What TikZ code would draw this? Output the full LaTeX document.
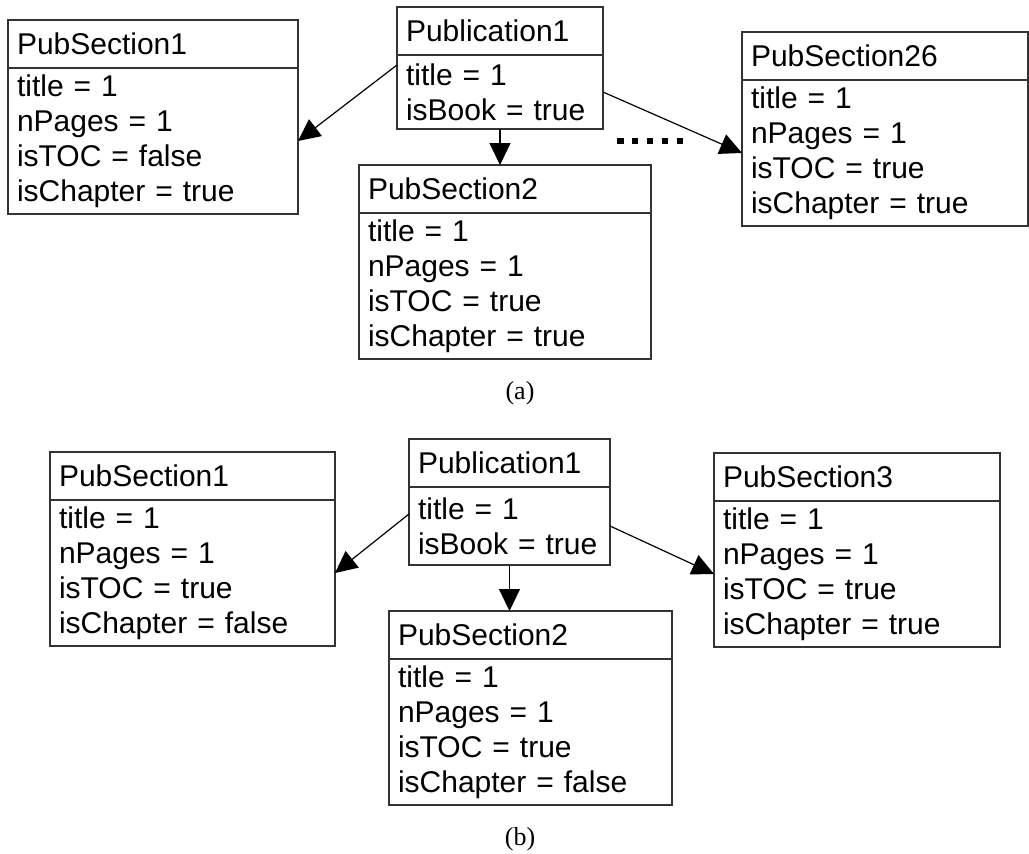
\documentclass[tikz,border=0pt]{standalone}
\usepackage{fontspec}
\setmainfont{Liberation Sans}
\newfontfamily\capfont{Liberation Serif}
\usepackage{tikz}
\usetikzlibrary{arrows.meta, positioning}

\begin{document}
\begin{tikzpicture}[
    x=1pt, y=-1pt,
    objhead/.style={rectangle, draw=black!80, line width=1.5pt, anchor=north west, text width=#1, align=left, inner xsep=9pt, inner ysep=0pt, outer sep=0pt, minimum height=48pt, font={\fontsize{30}{35}\selectfont}},
    objbody/.style={rectangle, draw=black!80, line width=1.5pt, text width=#1, align=left, inner xsep=9pt, inner ysep=0pt, outer sep=0pt, minimum height=146pt, font={\fontsize{30}{35}\selectfont}},
    arrow/.style={-{Triangle[length=22pt, width=21pt]}, line width=1.2pt},
    sublabel/.style={font={\capfont\fontsize{26}{28}\selectfont}}
]
\useasboundingbox (0,0) rectangle (1029,854);

% (a)
\node[objhead=188pt] (pubA) at (397,7) {Publication1};
\node[objbody=188pt, below=0pt of pubA, minimum height=74pt] (pubAattr) {title = 1\\isBook = true};

\node[objhead=272pt] (sec1A) at (8,20) {PubSection1};
\node[objbody=272pt, below=0pt of sec1A] (sec1Aattr) {title = 1\\nPages = 1\\isTOC = false\\isChapter = true};

\node[objhead=274pt] (sec2A) at (359,165) {PubSection2};
\node[objbody=274pt, below=0pt of sec2A] (sec2Aattr) {title = 1\\nPages = 1\\isTOC = true\\isChapter = true};

\node[objhead=268pt] (sec26A) at (742,32) {PubSection26};
\node[objbody=268pt, below=0pt of sec26A] (sec26Aattr) {title = 1\\nPages = 1\\isTOC = true\\isChapter = true};

\draw[line width=6pt, dash pattern=on 6.5pt off 8.4pt] (617,141) -- (683,141);

\draw[arrow] ([yshift=-10pt]pubAattr.north west) -- (sec1Aattr.east);
\draw[arrow] (pubAattr.south) -- (pubAattr.south |- sec2A.north);
\draw[arrow] (pubAattr.east) -- (sec26Aattr.west);

\node[sublabel] (capA) at (520,393) {(a)};

% (b)
\node[objhead=183pt] (pubB) at (409,439) {Publication1};
\node[objbody=183pt, below=0pt of pubB, minimum height=78pt] (pubBattr) {title = 1\\isBook = true};

\node[objhead=267pt] (sec1B) at (50,452) {PubSection1};
\node[objbody=267pt, below=0pt of sec1B] (sec1Battr) {title = 1\\nPages = 1\\isTOC = true\\isChapter = false};

\node[objhead=265pt] (sec2B) at (389,611) {PubSection2};
\node[objbody=265pt, below=0pt of sec2B] (sec2Battr) {title = 1\\nPages = 1\\isTOC = true\\isChapter = false};

\node[objhead=268pt] (sec3B) at (714,453) {PubSection3};
\node[objbody=268pt, below=0pt of sec3B] (sec3Battr) {title = 1\\nPages = 1\\isTOC = true\\isChapter = true};

\draw[arrow] ([yshift=-27pt]pubBattr.north west) -- (sec1Battr.east);
\draw[arrow] (pubBattr.south) -- (pubBattr.south |- sec2B.north);
\draw[arrow] (pubBattr.east) -- (sec3Battr.west);

\node[sublabel] (capB) at (520,839) {(b)};

\end{tikzpicture}
\end{document}
